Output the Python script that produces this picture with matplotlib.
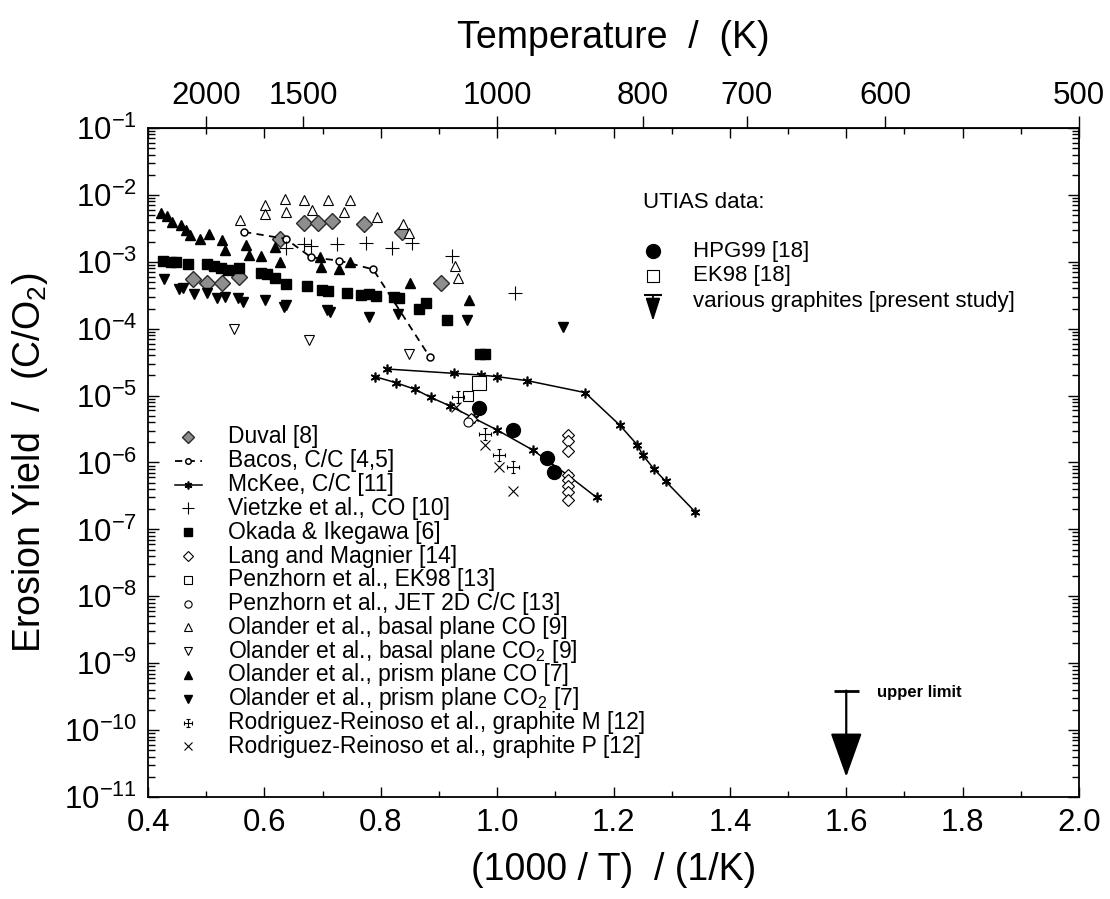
import matplotlib
matplotlib.use("Agg")
import matplotlib.pyplot as plt
from matplotlib.path import Path
from matplotlib.ticker import (MultipleLocator, LogLocator, NullFormatter,
                               NullLocator, FixedLocator, FormatStrFormatter)

plt.rcParams['font.family'] = ['Liberation Sans', 'DejaVu Sans']
plt.rcParams['mathtext.default'] = 'regular'

# --- data: x = 1000/T (1/K), y = erosion yield (C/O2) ---
duval_x = [0.478, 0.501, 0.527, 0.557, 0.626, 0.668, 0.692, 0.717, 0.771, 0.836, 0.904]
duval_y = [5.5e-4, 4.9e-4, 4.8e-4, 5.9e-4, 2.2e-3, 3.8e-3, 3.8e-3, 4.1e-3, 3.7e-3, 2.8e-3, 4.8e-4]

bacos_x = [0.565, 0.637, 0.680, 0.729, 0.787, 0.884]
bacos_y = [2.8e-3, 2.2e-3, 1.17e-3, 1.04e-3, 7.7e-4, 3.8e-5]

mckee1_x = [0.790, 0.826, 0.859, 0.886, 0.919, 0.960, 1.000, 1.061, 1.121, 1.171]
mckee1_y = [1.92e-5, 1.56e-5, 1.24e-5, 9.4e-6, 7.0e-6, 4.6e-6, 3.06e-6, 1.54e-6, 6.5e-7, 3.0e-7]
mckee2_x = [0.810, 0.926, 0.972, 1.000, 1.052, 1.151, 1.211, 1.241, 1.250, 1.270, 1.290, 1.340]
mckee2_y = [2.5e-5, 2.15e-5, 2.03e-5, 1.92e-5, 1.67e-5, 1.11e-5, 3.6e-6, 1.83e-6, 1.3e-6,
            7.9e-7, 5.2e-7, 1.84e-7]

vietzke_x = [0.638, 0.668, 0.680, 0.724, 0.775, 0.819, 0.853, 0.922, 1.031]
vietzke_y = [1.59e-3, 1.85e-3, 1.72e-3, 1.85e-3, 1.93e-3, 1.59e-3, 1.93e-3, 1.22e-3, 3.45e-4]

okada_x = [0.426, 0.439, 0.448, 0.469, 0.501, 0.514, 0.525, 0.538, 0.557, 0.595, 0.604,
           0.618, 0.637, 0.674, 0.699, 0.710, 0.742, 0.766, 0.779, 0.792, 0.822, 0.832,
           0.865, 0.878, 0.914, 0.970, 0.980]
okada_y = [1.04e-3, 1.0e-3, 1.0e-3, 9.3e-4, 9.3e-4, 8.7e-4, 8.0e-4, 7.5e-4, 8.0e-4, 6.9e-4,
           6.6e-4, 5.7e-4, 4.7e-4, 4.3e-4, 3.8e-4, 3.7e-4, 3.4e-4, 3.2e-4, 3.3e-4, 3.1e-4,
           3.0e-4, 2.9e-4, 1.95e-4, 2.4e-4, 1.35e-4, 4.2e-5, 4.2e-5]

lang_x = [0.955, 1.121, 1.121, 1.121, 1.121, 1.121, 1.121, 1.121, 1.121]
lang_y = [4.5e-6, 2.6e-6, 2.1e-6, 1.5e-6, 6.5e-7, 5.5e-7, 4.5e-7, 3.6e-7, 2.75e-7]

penz_ek98_x = [0.950]
penz_ek98_y = [9.9e-6]
penz_jet_x = [0.950]
penz_jet_y = [4.1e-6]

basal_co_x = [0.558, 0.601, 0.601, 0.636, 0.637, 0.668, 0.681, 0.709, 0.736, 0.747,
              0.793, 0.839, 0.849, 0.928, 0.932]
basal_co_y = [4.2e-3, 7.1e-3, 5.2e-3, 8.6e-3, 5.5e-3, 8.4e-3, 5.9e-3, 8.4e-3, 5.6e-3, 8.4e-3,
              4.7e-3, 3.7e-3, 2.7e-3, 8.7e-4, 5.7e-4]

basal_co2_x = [0.547, 0.676, 0.848]
basal_co2_y = [9.8e-5, 6.8e-5, 4.2e-5]

prism_co_x = [0.422, 0.432, 0.442, 0.456, 0.466, 0.473, 0.489, 0.504, 0.527, 0.532, 0.568,
              0.574, 0.594, 0.618, 0.627, 0.696, 0.697, 0.729, 0.748, 0.850, 0.952]
prism_co_y = [5.4e-3, 4.8e-3, 4.0e-3, 3.5e-3, 3.0e-3, 2.5e-3, 2.2e-3, 2.6e-3, 2.1e-3, 1.5e-3,
              1.8e-3, 1.26e-3, 1.22e-3, 1.64e-3, 1.0e-3, 1.17e-3, 8.3e-4, 7.7e-4, 1.0e-3,
              4.9e-4, 2.7e-4]

prism_co2_x = [0.428, 0.454, 0.461, 0.479, 0.501, 0.519, 0.532, 0.555, 0.564, 0.601, 0.633,
               0.638, 0.708, 0.713, 0.779, 0.830, 0.949, 1.113]
prism_co2_y = [5.5e-4, 3.9e-4, 4.0e-4, 3.3e-4, 3.45e-4, 2.84e-4, 3.0e-4, 2.84e-4, 2.5e-4,
               2.7e-4, 2.1e-4, 2.3e-4, 1.9e-4, 1.8e-4, 1.48e-4, 1.66e-4, 1.35e-4, 1.05e-4]

rodm_x = [0.933, 0.979, 1.004, 1.028]
rodm_y = [9.4e-6, 2.7e-6, 1.3e-6, 8.7e-7]
rodp_x = [0.930, 0.979, 1.004, 1.028]
rodp_y = [6.8e-6, 1.8e-6, 8.7e-7, 3.7e-7]

# UTIAS data
hpg99_x = [0.968, 1.028, 1.085, 1.097]
hpg99_y = [6.5e-6, 3.06e-6, 1.15e-6, 7.3e-7]
ek98_x = [0.968]
ek98_y = [1.56e-5]
limit_x = 1.6
limit_top = 3.9e-10
limit_tip = 2.0e-11

temp_ticks = [2000, 1500, 1000, 800, 700, 600, 500]

# marker for Rodriguez-Reinoso M: cross with end caps
c = 0.35
rodm_marker = Path(
    [(-1, 0), (1, 0), (0, -1), (0, 1),
     (-1, -c), (-1, c), (1, -c), (1, c), (-c, 1), (c, 1), (-c, -1), (c, -1)],
    [Path.MOVETO, Path.LINETO] * 6)

styles = [
    ("Duval [8]", duval_x, duval_y,
     dict(marker='D', ms=8, mfc='#8e8e8e', mec='#2a2a2a', mew=1.0, ls='none')),
    ("Bacos, C/C [4,5]", bacos_x, bacos_y,
     dict(marker='o', ms=5, mfc='white', mec='black', mew=1.1, ls=(0, (4, 3)), lw=1.3, color='black')),
    ("McKee, C/C [11]", None, None,
     dict(marker=(6, 2, 0), ms=7, mec='black', mew=1.2, ls='-', lw=1.1, color='black')),
    ("Vietzke et al., CO [10]", vietzke_x, vietzke_y,
     dict(marker='+', ms=10, mec='black', mew=0.8, ls='none')),
    ("Okada & Ikegawa [6]", okada_x, okada_y,
     dict(marker='s', ms=7.5, mfc='black', mec='black', ls='none')),
    ("Lang and Magnier [14]", lang_x, lang_y,
     dict(marker='D', ms=6.5, mfc='white', mec='black', mew=0.8, ls='none')),
    ("Penzhorn et al., EK98 [13]", penz_ek98_x, penz_ek98_y,
     dict(marker='s', ms=6.5, mfc='white', mec='black', mew=0.8, ls='none')),
    ("Penzhorn et al., JET 2D C/C [13]", penz_jet_x, penz_jet_y,
     dict(marker='o', ms=6.5, mfc='white', mec='black', mew=0.8, ls='none')),
    ("Olander et al., basal plane CO [9]", basal_co_x, basal_co_y,
     dict(marker='^', ms=7, mfc='white', mec='black', mew=0.8, ls='none')),
    ("Olander et al., basal plane CO$_2$ [9]", basal_co2_x, basal_co2_y,
     dict(marker='v', ms=7, mfc='white', mec='black', mew=0.8, ls='none')),
    ("Olander et al., prism plane CO [7]", prism_co_x, prism_co_y,
     dict(marker='^', ms=7.5, mfc='black', mec='black', ls='none')),
    ("Olander et al., prism plane CO$_2$ [7]", prism_co2_x, prism_co2_y,
     dict(marker='v', ms=7.5, mfc='black', mec='black', ls='none')),
    ("Rodriguez-Reinoso et al., graphite M [12]", rodm_x, rodm_y,
     dict(marker=rodm_marker, ms=8, mec='black', mew=0.8, ls='none')),
    ("Rodriguez-Reinoso et al., graphite P [12]", rodp_x, rodp_y,
     dict(marker='x', ms=7, mec='black', mew=0.8, ls='none')),
]

fig = plt.figure(figsize=(11.1, 8.99), dpi=100)
ax = fig.add_axes([148 / 1110, 1 - 797 / 899, 931 / 1110, 669 / 899])
ax.set_yscale('log')

for label, xs, ys, st in styles:
    if label.startswith("McKee"):
        ax.plot(mckee1_x, mckee1_y, **st)
        ax.plot(mckee2_x, mckee2_y, **st)
    else:
        ax.plot(xs, ys, **st)

# UTIAS data
ax.plot(hpg99_x, hpg99_y, 'o', ms=10, color='black')
ax.plot(ek98_x, ek98_y, 's', ms=10, mfc='white', mec='black', mew=0.8)

# upper limit arrow
ax.annotate('', xy=(limit_x, limit_tip), xytext=(limit_x, limit_top),
            arrowprops=dict(arrowstyle='-|>,head_length=2.8,head_width=1.0',
                            mutation_scale=10, lw=1.6, color='black',
                            shrinkA=0, shrinkB=0))
ax.plot([limit_x], [limit_top], marker='_', ms=18, mew=2, color='black')
ax.text(0.783, 0.1555, 'upper limit', transform=ax.transAxes, fontsize=12,
        fontweight='bold', va='center', ha='left')

# main legend (drawn by hand)
fs_leg = 16.5
row0 = 1 - (437 - 128) / 669
drow = 23.8 / 669
for i, (label, xs, ys, st) in enumerate(styles):
    yy = row0 - i * drow
    st_leg = dict(st, ms=st['ms'] * 0.8)
    if st.get('ls', 'none') != 'none':
        ax.plot([0.029, 0.058], [yy, yy], transform=ax.transAxes, clip_on=False,
                **dict(st_leg, marker='none'))
        ax.plot([0.043], [yy], transform=ax.transAxes, **dict(st_leg, ls='none'))
    else:
        ax.plot([0.043], [yy], transform=ax.transAxes, **st_leg)
    ax.text(0.086, yy, label, transform=ax.transAxes, fontsize=fs_leg,
            va='center', ha='left')

# UTIAS legend
fs_ut = 16
ax.text(0.532, 0.888, 'UTIAS data:', transform=ax.transAxes, fontsize=fs_ut,
        va='center', ha='left')
ax.plot([0.5424], [0.8161], 'o', ms=10, color='black', transform=ax.transAxes)
ax.text(0.5854, 0.8161, 'HPG99 [18]', transform=ax.transAxes, fontsize=fs_ut,
        va='center', ha='left')
ax.plot([0.5424], [0.7788], 's', ms=8.5, mfc='white', mec='black', mew=0.8,
        transform=ax.transAxes)
ax.text(0.5854, 0.7788, 'EK98 [18]', transform=ax.transAxes, fontsize=fs_ut,
        va='center', ha='left')
ax.annotate('', xy=(0.5424, 0.7115), xytext=(0.5424, 0.7504),
            xycoords='axes fraction', textcoords='axes fraction',
            arrowprops=dict(arrowstyle='-|>,head_length=1.4,head_width=0.45',
                            mutation_scale=10, lw=1.3, color='black',
                            shrinkA=0, shrinkB=0))
ax.plot([0.5424], [0.7504], marker='_', ms=13, mew=1.5, color='black',
        transform=ax.transAxes)
ax.text(0.5854, 0.7414, 'various graphites [present study]', transform=ax.transAxes,
        fontsize=fs_ut, va='center', ha='left')

# axes
ax.set_xlim(0.4, 2.0)
ax.set_ylim(1e-11, 1e-1)
ax.xaxis.set_major_locator(MultipleLocator(0.2))
ax.xaxis.set_minor_locator(MultipleLocator(0.1))
ax.xaxis.set_major_formatter(FormatStrFormatter('%.1f'))
ax.yaxis.set_major_locator(LogLocator(base=10, numticks=20))
ax.yaxis.set_minor_locator(LogLocator(base=10, subs=range(2, 10), numticks=20))
ax.yaxis.set_minor_formatter(NullFormatter())
ax.tick_params(axis='both', which='both', direction='in', top=True, right=True,
               width=1.0)
ax.tick_params(axis='x', which='major', length=7, labelsize=22.5, pad=8)
ax.tick_params(axis='x', which='minor', length=4)
ax.tick_params(axis='y', which='major', length=8, labelsize=22.5, pad=8)
ax.tick_params(axis='y', which='minor', length=5)
for sp in ax.spines.values():
    sp.set_linewidth(1.3)

ax.set_xlabel('(1000 / T)  / (1/K)', fontsize=27, labelpad=10)
ax.set_ylabel('Erosion Yield  /  (C/O$_2$)', fontsize=27, labelpad=10)

sec = ax.secondary_xaxis('top', functions=(lambda x: 1000.0 / x, lambda t: 1000.0 / t))
sec.xaxis.set_major_locator(FixedLocator(temp_ticks))
sec.xaxis.set_minor_locator(NullLocator())
sec.set_xticklabels([str(t) for t in temp_ticks])
sec.tick_params(axis='x', direction='out', length=9, width=1.0, labelsize=22.5, pad=3)
sec.set_xlabel('Temperature  /  (K)', fontsize=27, labelpad=24)

fig.savefig('out.png', dpi=100)
